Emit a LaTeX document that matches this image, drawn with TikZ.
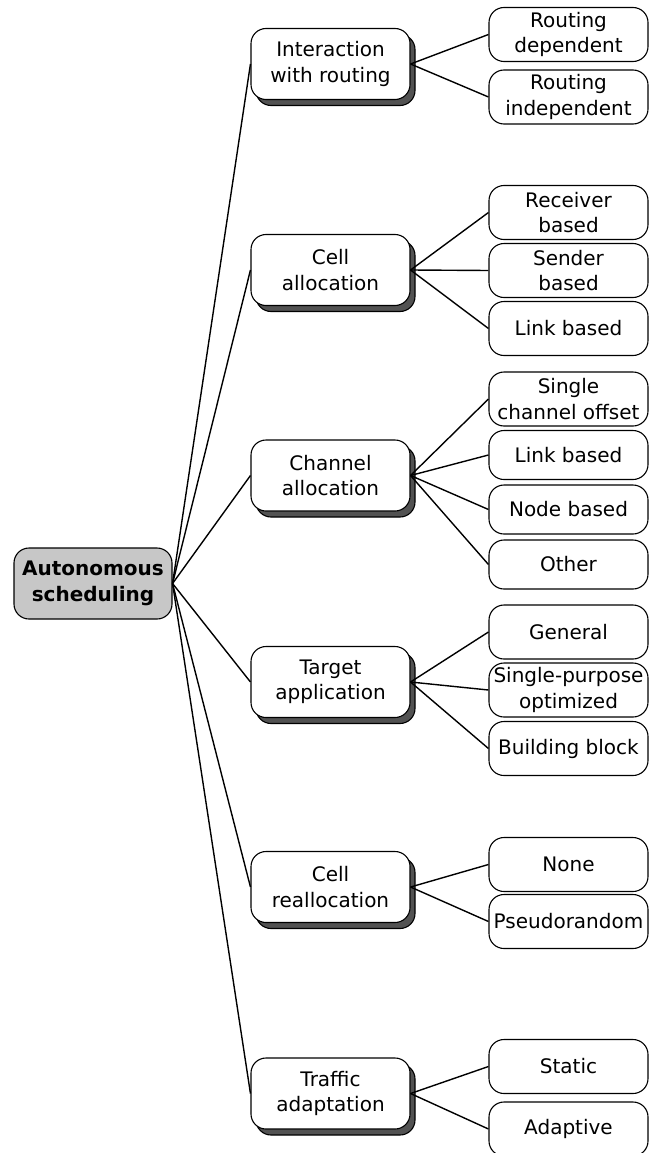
\documentclass[tikz,border=0pt]{standalone}
\usepackage{fontspec}
\setmainfont{DejaVu Sans}
\usetikzlibrary{shadows}
\begin{document}
\begin{tikzpicture}[x=1pt,y=-1pt,
  font=\fontsize{20}{25.5}\selectfont,
  box/.style={draw=black, line width=1.1pt, rounded corners=15pt, fill=white, align=center, inner sep=0pt},
  rootbox/.style={box, fill=black!22, font=\fontsize{20}{25.5}\selectfont\bfseries, minimum width=158pt, minimum height=71pt},
  midbox/.style={box, minimum width=159pt, minimum height=71pt,
    copy shadow={shadow xshift=5pt, shadow yshift=-6pt, fill=black!68, draw=black, line width=1.1pt}},
  leafbox/.style={box, minimum width=159pt, minimum height=54pt},
  conn/.style={line width=1.4pt}]
\useasboundingbox (0,0) rectangle (658,1153);

\node[rootbox] (root) at (93,583.5) {Autonomous\\scheduling};

\node[midbox] (m1) at (330.5,64) {Interaction\\with routing};
\node[midbox] (m2) at (330.5,270) {Cell\\allocation};
\node[midbox] (m3) at (330.5,475.5) {Channel\\allocation};
\node[midbox] (m4) at (330.5,682) {Target\\application};
\node[midbox] (m5) at (330.5,887) {Cell\\reallocation};
\node[midbox] (m6) at (330.5,1093.5) {Traffic\\adaptation};

\node[leafbox] (l11) at (568.5,34.5) {Routing\\dependent};
\node[leafbox] (l12) at (568.5,97) {Routing\\independent};

\node[leafbox] (l21) at (568.5,212.5) {Receiver\\based};
\node[leafbox] (l22) at (568.5,270.5) {Sender\\based};
\node[leafbox] (l23) at (568.5,328.5) {Link based};

\node[leafbox] (l31) at (568.5,399) {Single\\channel offset};
\node[leafbox, minimum height=49pt] (l32) at (568.5,455) {Link based};
\node[leafbox, minimum height=49pt] (l33) at (568.5,509.5) {Node based};
\node[leafbox, minimum height=49pt] (l34) at (568.5,564.5) {Other};

\node[leafbox] (l41) at (568.5,632) {General};
\node[leafbox] (l42) at (568.5,690) {Single-purpose\\optimized};
\node[leafbox] (l43) at (568.5,748.5) {Building block};

\node[leafbox] (l51) at (568.5,864.5) {None};
\node[leafbox] (l52) at (568.5,921.5) {Pseudorandom};

\node[leafbox] (l61) at (568.5,1066.5) {Static};
\node[leafbox] (l62) at (568.5,1129) {Adaptive};

\foreach \m in {m1,m2,m3,m4,m5,m6}
  \draw[conn] (root.east) -- (\m.west);

\foreach \l in {l11,l12} \draw[conn] (m1.east) -- (\l.west);
\foreach \l in {l21,l22,l23} \draw[conn] (m2.east) -- (\l.west);
\foreach \l in {l31,l32,l33,l34} \draw[conn] (m3.east) -- (\l.west);
\foreach \l in {l41,l42,l43} \draw[conn] (m4.east) -- (\l.west);
\foreach \l in {l51,l52} \draw[conn] (m5.east) -- (\l.west);
\foreach \l in {l61,l62} \draw[conn] (m6.east) -- (\l.west);
\end{tikzpicture}
\end{document}
